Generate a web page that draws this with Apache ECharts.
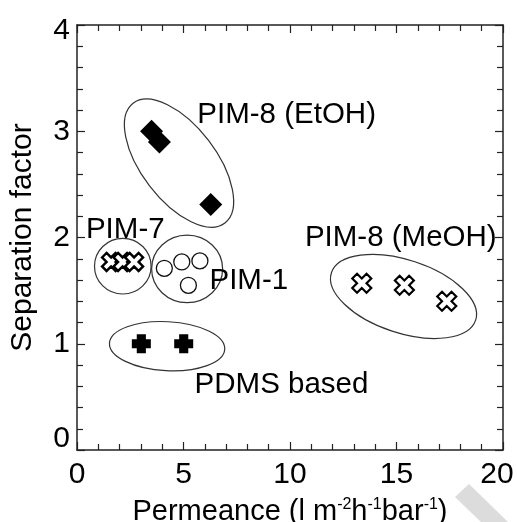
<!DOCTYPE html>
<html>
<head>
<meta charset="utf-8">
<script src="https://cdn.jsdelivr.net/npm/echarts@6/dist/echarts.min.js"></script>
<style>
html,body{margin:0;padding:0;background:#fff;}
#chart{width:517px;height:522px;}
</style>
</head>
<body>
<div id="chart"></div>
<script>
// ---- data ----
var xTicks = [0, 5, 10, 15, 20];
var yTicks = [0, 1, 2, 3, 4];

var etohX = [3.5, 3.87, 6.28];
var etohY = [3.0, 2.90, 2.31];

var pim7X = [1.6, 2.14, 2.68];
var pim7Y = [1.77, 1.77, 1.77];

var pim1X = [4.10, 4.92, 5.77, 5.23];
var pim1Y = [1.71, 1.77, 1.78, 1.55];

var pdmsX = [3.02, 5.01];
var pdmsY = [1.0, 1.0];

var meohX = [13.37, 15.37, 17.36];
var meohY = [1.57, 1.55, 1.40];

// group annotations: name, anchor (left edge, vertical centre) in data units
var groupNames = ['PIM-8 (EtOH)', 'PIM-7', 'PIM-1', 'PIM-8 (MeOH)', 'PDMS based'];
var groupLabelX = [5.65, 0.42, 6.22, 10.7, 5.52];
var groupLabelY = [3.15, 2.07, 1.59, 2.0, 0.61];

// group ellipses: centre in data units
var ellipseCX = [4.79, 2.15, 5.17, 15.33, 4.23];
var ellipseCY = [2.70, 1.73, 1.705, 1.445, 0.977];

function zip(a, b) { return a.map(function (v, i) { return [v, b[i]]; }); }

// ellipse shapes (pixels / degrees) kept separate from data
var ellipseShape = [
  {rx: 75.4, ry: 37.2, rot: -52.5},
  {rx: 28.3, ry: 27.8, rot: 0},
  {rx: 35.5, ry: 33.8, rot: 0},
  {rx: 75.9, ry: 36.5, rot: -18.2},
  {rx: 57.7, ry: 24.5, rot: -3}
];

var plusPath = 'path://M-1.2,-2.5L1.2,-2.5L1.2,-1.2L2.5,-1.2L2.5,1.2L1.2,1.2L1.2,2.5L-1.2,2.5L-1.2,1.2L-2.5,1.2L-2.5,-1.2L-1.2,-1.2Z';
var a = 0.5;
var xPath = 'path://M' + (-1 + a) + ',-1L0,' + (-a) + 'L' + (1 - a) + ',-1L1,' + (-1 + a) + 'L' + a + ',0L1,' + (1 - a) +
  'L' + (1 - a) + ',1L0,' + a + 'L' + (-1 + a) + ',1L-1,' + (1 - a) + 'L' + (-a) + ',0L-1,' + (-1 + a) + 'Z';

var FONT = 'Liberation Sans, Arial, sans-serif';
var FS = 30;
var TXT = '#000';
var chart = echarts.init(document.getElementById('chart'), null, {renderer: 'canvas'});

var axisCommon = {
  min: 0,
  axisLine: {show: true, onZero: false, lineStyle: {color: '#222', width: 1.5}},
  axisTick: {show: true, inside: true, length: 8, lineStyle: {color: '#222', width: 1.2}},
  minorTick: {show: true, length: 6, lineStyle: {color: '#222', width: 1.2}},
  splitLine: {show: false}
};

var option = {
  backgroundColor: '#fff',
  animation: false,
  textStyle: {fontFamily: FONT},
  grid: {left: 77, right: 14, top: 25, bottom: 72, containLabel: false, outerBoundsMode: 'none'},
  xAxis: [
    Object.assign({}, axisCommon, {
      type: 'value', max: 20, interval: 5, position: 'bottom',
      minorTick: Object.assign({}, axisCommon.minorTick, {splitNumber: 5}),
      axisLabel: {
        fontSize: FS, color: TXT, margin: 10, fontFamily: FONT,
        formatter: function (v) { return v === 20 ? '{r|' + v + '}' : '' + v; },
        rich: {r: {fontSize: FS, color: TXT, fontFamily: FONT, padding: [0, 12, 0, 0]}}
      },
      name: 'Permeance (l m{s|-2}h{s|-1}bar{s|-1})',
      nameLocation: 'middle', nameGap: 47,
      nameTextStyle: {
        fontSize: 29, color: TXT, fontFamily: FONT,
        rich: {s: {fontSize: 16, color: TXT, fontFamily: FONT, padding: [0, 0, 14, 0]}}
      }
    }),
    Object.assign({}, axisCommon, {
      type: 'value', max: 20, interval: 5, position: 'top',
      minorTick: Object.assign({}, axisCommon.minorTick, {splitNumber: 5}),
      axisLabel: {show: false}
    })
  ],
  yAxis: [
    Object.assign({}, axisCommon, {
      type: 'value', max: 4, interval: 1, position: 'left',
      minorTick: Object.assign({}, axisCommon.minorTick, {splitNumber: 5}),
      axisLabel: {
        fontSize: FS, color: TXT, margin: 7, fontFamily: FONT,
        formatter: function (v) {
          if (v === 0) return '{lo|0}';
          if (v === 4) return '{hi|4}';
          return '' + v;
        },
        rich: {
          lo: {fontSize: FS, color: TXT, fontFamily: FONT, padding: [0, 0, 22, 0]},
          hi: {fontSize: FS, color: TXT, fontFamily: FONT, padding: [11, 0, 0, 0]}
        }
      },
      name: 'Separation factor',
      nameLocation: 'middle', nameGap: 39,
      nameTextStyle: {fontSize: FS, color: TXT, fontFamily: FONT}
    }),
    Object.assign({}, axisCommon, {
      type: 'value', max: 4, interval: 1, position: 'right',
      minorTick: Object.assign({}, axisCommon.minorTick, {splitNumber: 5}),
      axisLabel: {show: false}
    })
  ],
  graphic: [{
    type: 'polygon', silent: true, z: -1,
    shape: {points: [[455, 497], [469, 484], [508, 522], [481, 522]]},
    style: {fill: '#dcdcdc'}
  }],
  series: [
    {
      type: 'custom', name: 'ellipses', z: 1,
      renderItem: function (params, api) {
        var c = api.coord([api.value(0), api.value(1)]);
        var s = ellipseShape[params.dataIndex];
        return {
          type: 'ellipse',
          x: c[0], y: c[1],
          rotation: s.rot * Math.PI / 180,
          shape: {cx: 0, cy: 0, rx: s.rx, ry: s.ry},
          style: {fill: 'none', stroke: '#333', lineWidth: 1.2}
        };
      },
      data: zip(ellipseCX, ellipseCY),
      silent: true
    },
    {
      type: 'scatter', name: 'labels', z: 5,
      symbolSize: 0,
      itemStyle: {opacity: 1},
      data: zip(groupLabelX, groupLabelY).map(function (p, i) {
        return {value: p, label: {formatter: groupNames[i]}};
      }),
      label: {show: true, position: 'right', distance: 0, fontSize: 29.5, color: TXT, opacity: 1, fontFamily: FONT},
      silent: true
    },
    {
      type: 'scatter', name: 'PIM-8 (EtOH)', z: 3,
      symbol: 'diamond', symbolSize: 23,
      itemStyle: {color: '#000', opacity: 1},
      data: zip(etohX, etohY)
    },
    {
      type: 'scatter', name: 'PIM-7', z: 3,
      symbol: xPath, symbolSize: 18,
      itemStyle: {color: '#fff', borderColor: '#000', borderWidth: 2.4, opacity: 1},
      data: zip(pim7X, pim7Y)
    },
    {
      type: 'scatter', name: 'PIM-1', z: 3,
      symbol: 'circle', symbolSize: 16,
      itemStyle: {color: '#fff', borderColor: '#111', borderWidth: 1.3, opacity: 1},
      data: zip(pim1X, pim1Y)
    },
    {
      type: 'scatter', name: 'PDMS based', z: 3,
      symbol: plusPath, symbolSize: 19,
      itemStyle: {color: '#000', opacity: 1},
      data: zip(pdmsX, pdmsY)
    },
    {
      type: 'scatter', name: 'PIM-8 (MeOH)', z: 3,
      symbol: xPath, symbolSize: 19,
      itemStyle: {color: '#fff', borderColor: '#000', borderWidth: 2.2, opacity: 1},
      data: zip(meohX, meohY)
    }
  ]
};
chart.setOption(option);
</script>
</body>
</html>
